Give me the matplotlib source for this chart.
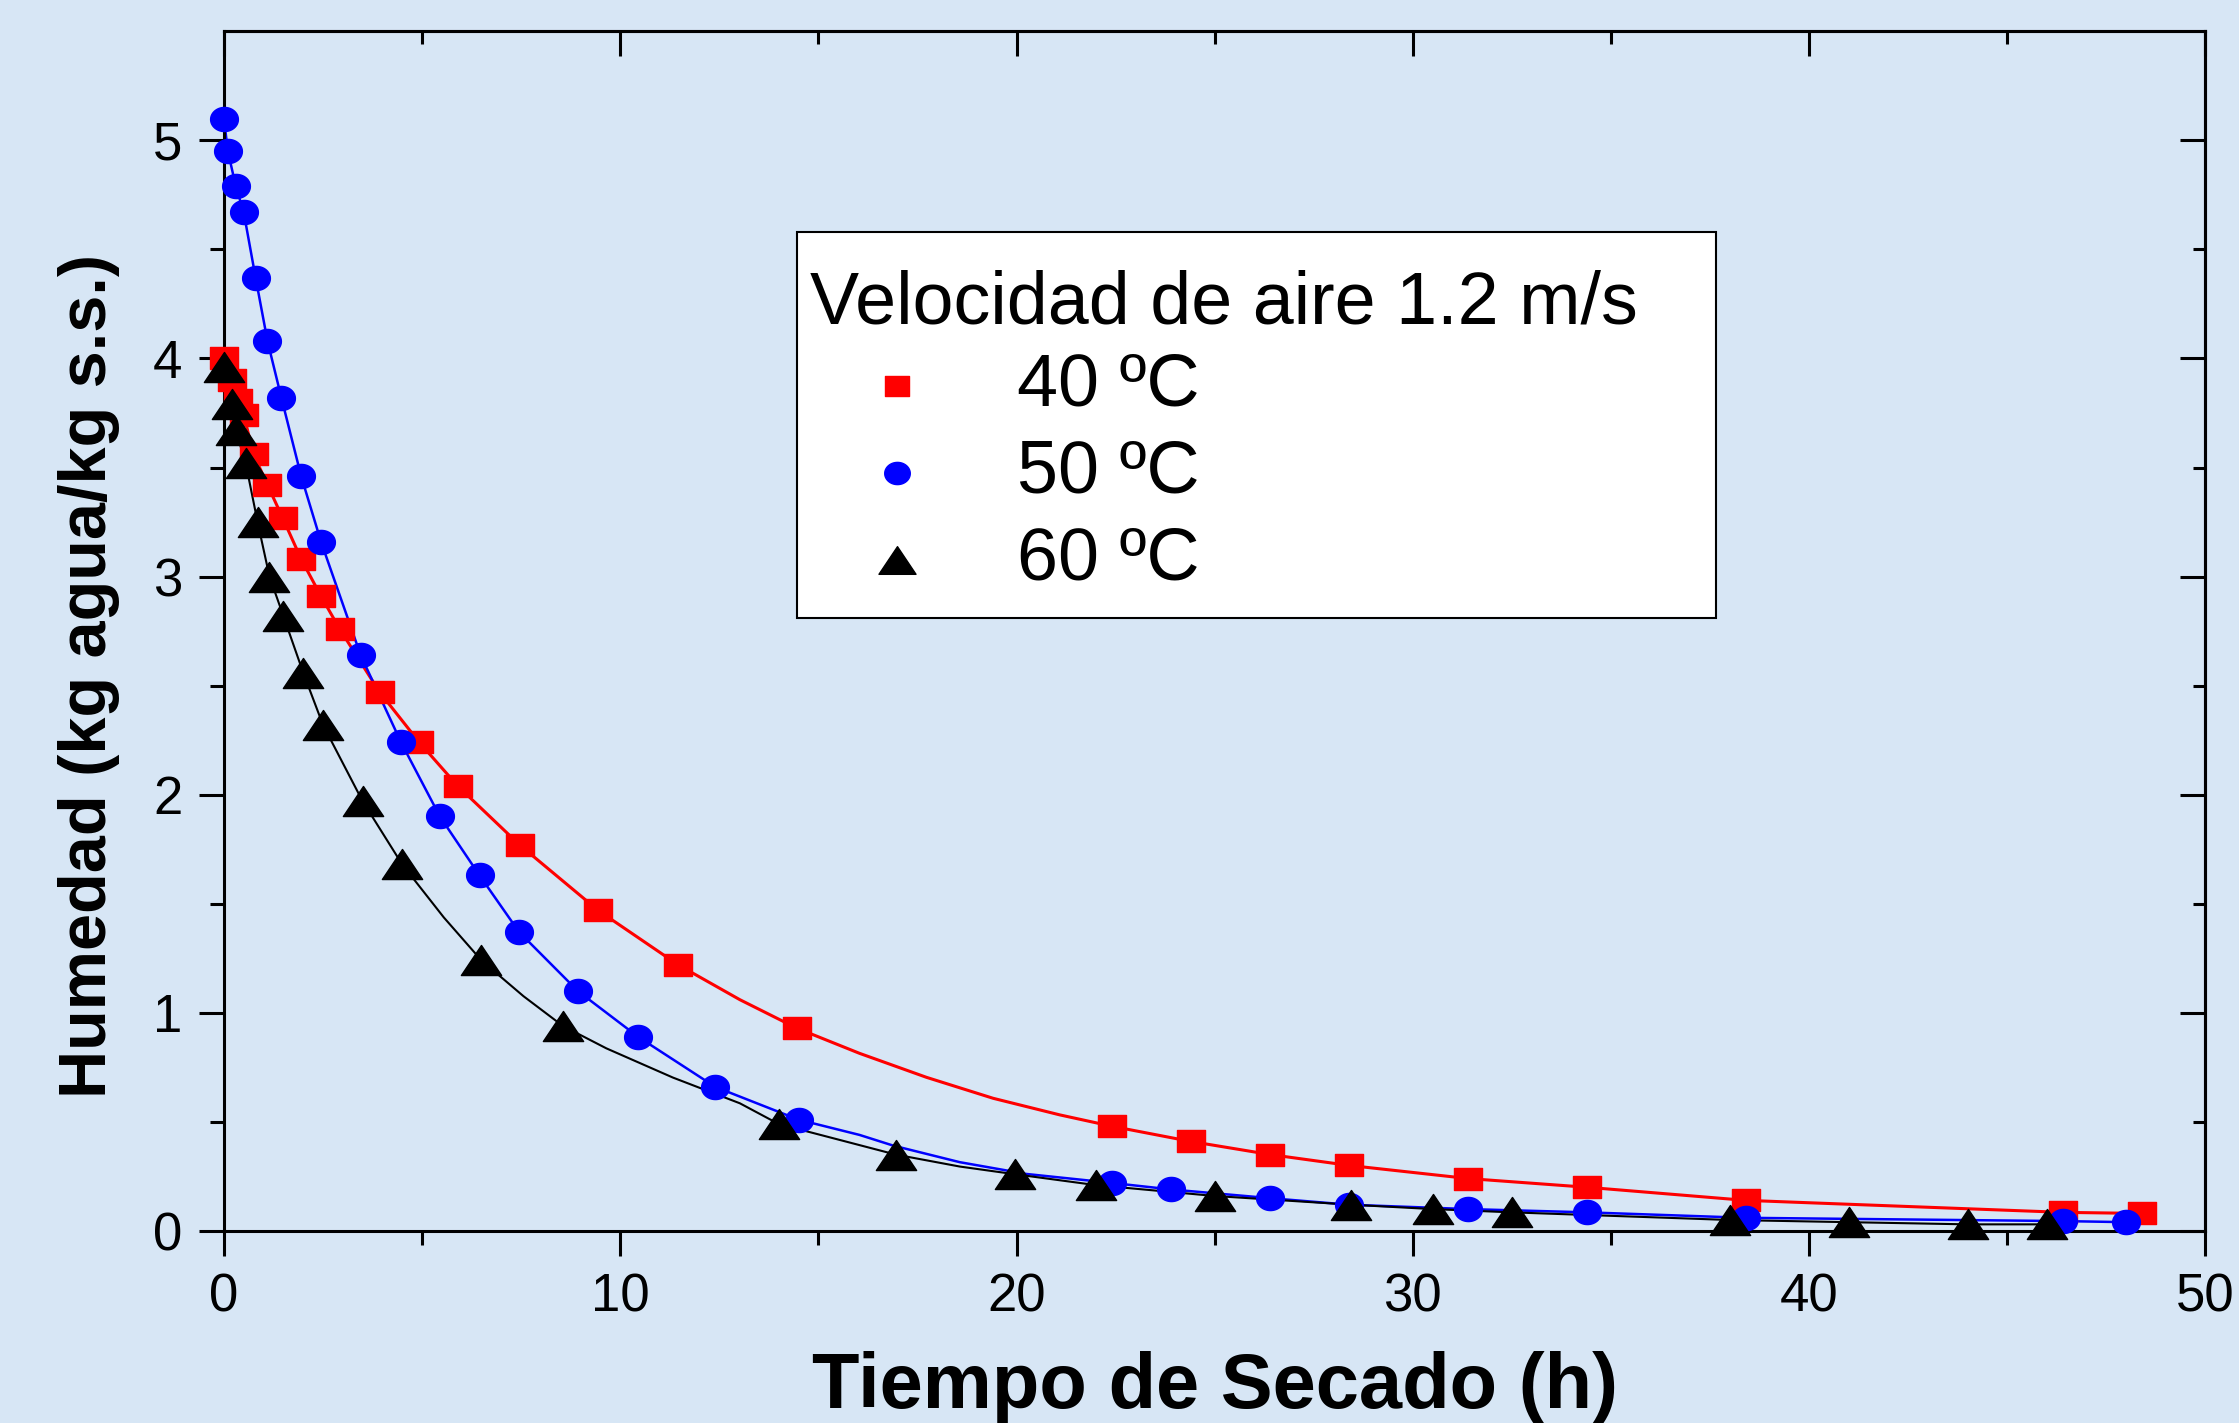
import numpy as np
import matplotlib
matplotlib.use("Agg")
import matplotlib.pyplot as plt
from matplotlib.path import Path
from matplotlib.patches import Rectangle

plt.rcParams["font.family"] = ["Liberation Sans", "DejaVu Sans"]

# 40 ºC
t40 = [0, 0.2, 0.36, 0.5, 0.75, 1.1, 1.48, 1.95, 2.45, 2.92, 3.93, 4.93, 5.9, 7.46,
       9.44, 11.46, 14.45, 22.4, 24.4, 26.4, 28.4, 31.4, 34.4, 38.4, 46.4, 48.4]
h40 = [4.00, 3.90, 3.81, 3.74, 3.56, 3.42, 3.27, 3.08, 2.91, 2.76, 2.47, 2.24, 2.04, 1.77,
       1.47, 1.22, 0.93, 0.48, 0.41, 0.35, 0.30, 0.24, 0.20, 0.14, 0.085, 0.08]
# 50 ºC
t50 = [0, 0.1, 0.3, 0.5, 0.8, 1.1, 1.45, 1.95, 2.45, 3.45, 4.47, 5.45, 6.45, 7.45,
       8.93, 10.45, 12.4, 14.5, 22.4, 23.9, 26.4, 28.4, 31.4, 34.4, 38.4, 46.4, 48.0]
h50 = [5.10, 4.95, 4.79, 4.67, 4.37, 4.08, 3.82, 3.46, 3.16, 2.64, 2.24, 1.90, 1.63, 1.37,
       1.10, 0.89, 0.66, 0.51, 0.22, 0.19, 0.15, 0.12, 0.10, 0.085, 0.06, 0.045, 0.04]
# 60 ºC
t60 = [0, 0.2, 0.3, 0.55, 0.85, 1.15, 1.5, 2.0, 2.5, 3.5, 4.5, 6.5, 8.55, 14.0,
       16.95, 19.95, 22.0, 25.0, 28.45, 30.5, 32.5, 38.0, 41.0, 44.0, 46.0]
h60 = [3.96, 3.79, 3.67, 3.52, 3.25, 3.00, 2.82, 2.56, 2.32, 1.97, 1.68, 1.24, 0.94, 0.49,
       0.35, 0.26, 0.21, 0.16, 0.12, 0.10, 0.085, 0.05, 0.04, 0.03, 0.03]

fit40_t = [13.02, 16.04, 17.73, 19.41, 21.09]
fit40_h = [1.06, 0.814, 0.704, 0.608, 0.532]
fit50_t = [16.04, 16.89, 18.57, 20.25]
fit50_h = [0.44, 0.391, 0.315, 0.261]
fit60_t = [5.55, 7.56, 9.65, 11.33, 13.02, 15.54, 18.57]
fit60_h = [1.437, 1.076, 0.837, 0.703, 0.585, 0.417, 0.295]

labels = ["40 ºC", "50 ºC", "60 ºC"]
colors = ["#ff0000", "#0000ff", "#000000"]

# slightly wide marker shapes (reference is horizontally stretched)
ang = np.linspace(0, 2 * np.pi, 64)
m_circle = Path(np.column_stack([1.15 * np.cos(ang), np.sin(ang)]), closed=True)
m_square = Path([(-1.22, -1), (1.22, -1), (1.22, 1), (-1.22, 1), (-1.22, -1)], closed=True)
m_tri = Path([(-1.34, -1), (1.34, -1), (0, 1), (-1.34, -1)], closed=True)
markers = [m_square, m_circle, m_tri]
msizes = [19.5, 20, 29]
lws = [2.2, 1.8, 1.5]

bg = "#d7e6f5"
fig = plt.figure(figsize=(22.39, 14.23), dpi=100, facecolor=bg)
ax = fig.add_axes([0.100, 0.135, 0.885, 0.843], facecolor=bg)

series = [(t40, h40, fit40_t, fit40_h), (t50, h50, fit50_t, fit50_h),
          (t60, h60, fit60_t, fit60_h)]
for (t, h, ft, fh), c, m, ms, lw in zip(series, colors, markers, msizes, lws):
    lt = np.array(t + ft)
    lh = np.array(h + fh)
    order = np.argsort(lt)
    ax.plot(lt[order], lh[order], color=c, lw=lw, zorder=2)
    ax.plot(t, h, ls="none", marker=m, ms=ms, color=c, mec=c, clip_on=False, zorder=3)

ax.set_xlim(0, 50)
ax.set_ylim(0, 5.5)
xmaj = np.arange(0, 51, 10)
xmin = np.arange(5, 50, 10)
ymaj = np.arange(0, 6, 1)
ymin = np.arange(0.5, 5.5, 1)
ax.set_xticks(xmaj)
ax.set_xticks(xmin, minor=True)
ax.set_yticks(ymaj)
ax.set_yticks(ymin, minor=True)

for s in ax.spines.values():
    s.set_linewidth(2.2)
ax.tick_params(which="both", direction="out", width=2.2)
ax.tick_params(which="major", length=18, labelsize=38, pad=12)
ax.tick_params(which="minor", length=10)

# top and right axes: ticks pointing inward, no labels
top = ax.secondary_xaxis("top")
top.set_xticks(xmaj)
top.set_xticks(xmin, minor=True)
right = ax.secondary_yaxis("right")
right.set_yticks(ymaj)
right.set_yticks(ymin, minor=True)
for sec in (top, right):
    for s in sec.spines.values():
        s.set_linewidth(2.2)
    sec.tick_params(which="both", direction="in", width=2.2, labelsize=0)
    sec.tick_params(which="major", length=18)
    sec.tick_params(which="minor", length=9)
top.set_xticklabels([])
right.set_yticklabels([])

ax.set_xlabel("Tiempo de Secado (h)", fontsize=56, fontweight="bold")
ax.xaxis.set_label_coords(0.5, -0.10)
ax.xaxis.label.set_va("top")
ax.set_ylabel("Humedad (kg agua/kg s.s.)", fontsize=48, fontweight="bold")
ax.yaxis.set_label_coords(-0.068, 0.463)
ax.yaxis.label.set_va("center")

# legend box
ax.add_patch(Rectangle((0.289, 0.511), 0.464, 0.322, transform=ax.transAxes,
                       facecolor="white", edgecolor="black", lw=1.5, zorder=5))
ax.text(0.296, 0.7725, "Velocidad de aire 1.2 m/s", transform=ax.transAxes,
        fontsize=53, ha="left", va="center", zorder=6)
for i, (lab, c, m, ms) in enumerate(zip(labels, colors, markers, msizes)):
    yy = 0.704 - i * 0.0725
    ax.plot([0.3396], [yy], ls="none", marker=m, ms=ms * 0.92, color=c, mec=c,
            transform=ax.transAxes, zorder=6, clip_on=False)
    ax.text(0.400, yy, lab, transform=ax.transAxes, fontsize=53,
            ha="left", va="center", zorder=6)

fig.savefig("out.png", dpi=100, facecolor=bg)
